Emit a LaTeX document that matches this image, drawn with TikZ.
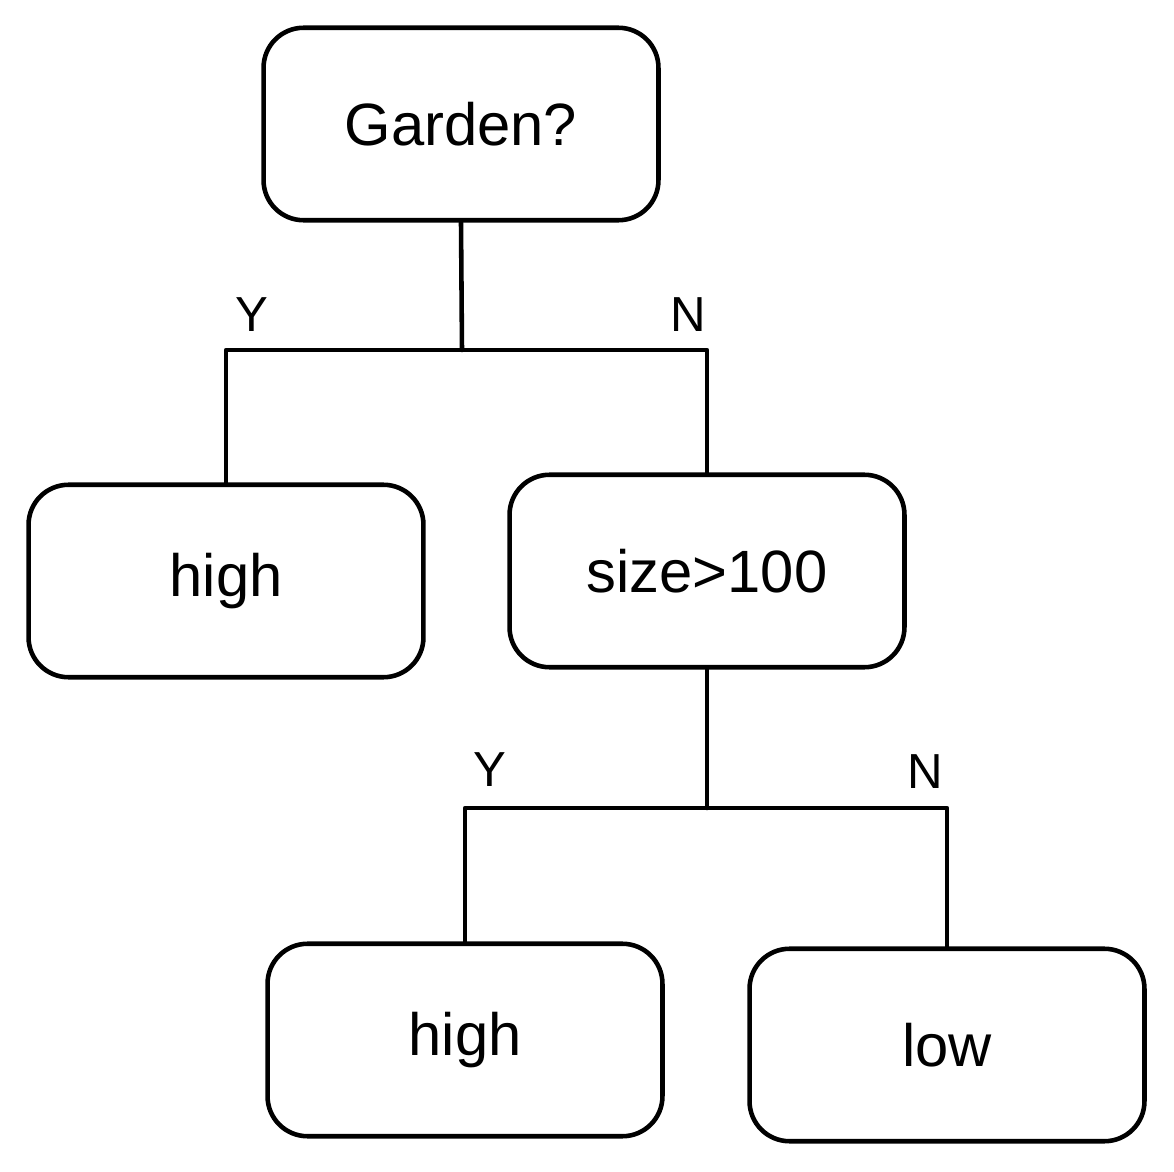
\documentclass[tikz,border=0pt]{standalone}
\usepackage{fontspec}
\setmainfont{Liberation Sans}
\usetikzlibrary{positioning}

\begin{document}
\begin{tikzpicture}[x=0.02cm, y=-0.02cm, line width=2.6pt, line cap=round, line join=round,
  box/.style={draw, rounded corners=0.8cm, minimum width=7.9cm, minimum height=3.85cm,
    font=\fontsize{34}{40}\selectfont},
  lbl/.style={font=\fontsize{28}{32}\selectfont}]
  \useasboundingbox (0,0) rectangle (1174,1172);
  \node[box] (garden) at (461,124) {Garden?};
  \node[box] (highA) at (226,581) {high};
  \node[box] (size) at (707,571) {size>100};
  \node[box] (highB) at (465,1040) {high};
  \node[box] (low) at (947,1045) {low};
  % first split
  \coordinate (splitA) at (462,350);
  \draw (garden.south) -- (splitA);
  \draw (highA.north) -- (highA.north |- splitA) -- (size.north |- splitA) -- (size.north);
  \node[lbl] (yesA) at (252,315) {Y};
  \node[lbl] (noA) at (688,315) {N};
  % second split
  \coordinate (splitB) at (707,808);
  \draw (size.south) -- (splitB);
  \draw (highB.north) -- (highB.north |- splitB) -- (low.north |- splitB) -- (low.north);
  \node[lbl] (yesB) at (490,770) {Y};
  \node[lbl] (noB) at (925,772) {N};
\end{tikzpicture}
\end{document}
